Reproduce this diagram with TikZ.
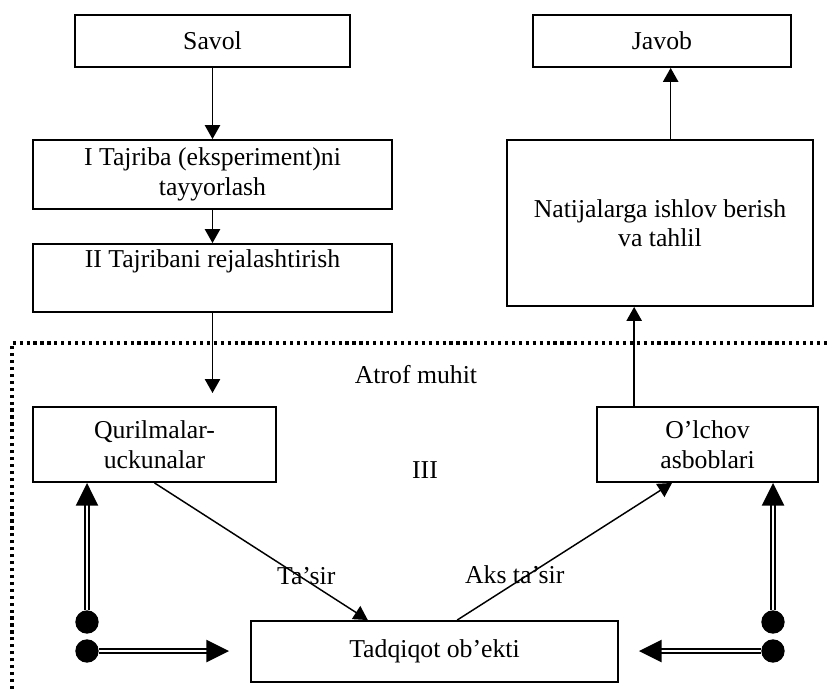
\documentclass[tikz,border=0pt]{standalone}
\usepackage{fontspec}
\setmainfont{Liberation Serif}
\usetikzlibrary{arrows.meta}
\begin{document}
\begin{tikzpicture}[x=0.75pt,y=-0.75pt,
  font=\fontsize{19.3}{22.2}\selectfont,
  box/.style={draw,line width=1.4pt,rectangle,align=center,inner sep=0pt},
  arr/.style={line width=1.1pt,-{Triangle[length=10.5pt,width=11.5pt]}},
  dbl/.style={double,line width=1.7pt,double distance=1.8pt,-{Triangle[length=17pt,width=16.5pt]}},
  dot/.style={circle,fill,minimum size=17.5pt,inner sep=0pt},
  dotline/.style={line width=2.4pt,dash pattern=on 2.4pt off 2.8pt}]
\useasboundingbox (0,0) rectangle (829,689);
\node[box,minimum width=206pt,minimum height=39pt] (savol) at (212.5,41) {Savol};
\node[box,minimum width=269pt,minimum height=51.75pt] (tajriba) at (212.5,174.5) {I Tajriba (eksperiment)ni\\tayyorlash};
\node[box,minimum width=269pt,minimum height=51pt] (reja) at (212.5,278) {II Tajribani rejalashtirish\\\strut};
\node[box,minimum width=193.5pt,minimum height=39pt] (javob) at (662,41) {Javob};
\node[box,minimum width=229.5pt,minimum height=124.5pt] (natija) at (660,223) {Natijalarga ishlov berish\\va tahlil};
\node[box,minimum width=182.25pt,minimum height=56.25pt] (qurilma) at (154.5,444.5) {Qurilmalar-\\uckunalar};
\node[box,minimum width=165.75pt,minimum height=56.25pt] (olchov) at (707.5,444.5) {O’lchov\\asboblari};
\node[box,minimum width=275.25pt,minimum height=45.75pt] (obekt) at (434.5,651.5) {Tadqiqot ob’ekti};
\node (atrof) at (416,375) {Atrof muhit};
\node (uch) at (425,470) {III};
\coordinate (qin) at (212.5,393);

\draw[dotline] (12,689) -- (12,343) -- (829,343);

\draw[arr] (savol) -- (tajriba);
\draw[arr] (tajriba) -- (reja);
\draw[arr] (reja) -- (qin);
\draw[arr] ([xshift=-55pt]olchov.north) -- ([xshift=-55pt]olchov.north |- natija.south);
\draw[arr] ([xshift=8pt]natija.north) -- ([xshift=8pt]natija.north |- javob.south);
\draw[arr] (qurilma.south) -- ([xshift=-50pt]obekt.north) node[pos=0.68,xshift=5pt] {Ta’sir};
\draw[arr] ([xshift=17pt]obekt.north) -- ([xshift=-26.6pt]olchov.south) node[pos=0.33,xshift=-10pt] {Aks ta’sir};

\node[dot] (ld1) at (87,622) {};
\node[dot] (ld2) at (87,651) {};
\node[dot] (rd1) at (773,622) {};
\node[dot] (rd2) at (773,651) {};
\draw[dbl] (ld1) -- (ld1 |- qurilma.south);
\draw[dbl,shorten >=15.75pt] (ld2) -- (ld2 -| obekt.west);
\draw[dbl] (rd1) -- (rd1 |- olchov.south);
\draw[dbl,shorten >=15pt] (rd2) -- (rd2 -| obekt.east);

\end{tikzpicture}
\end{document}
